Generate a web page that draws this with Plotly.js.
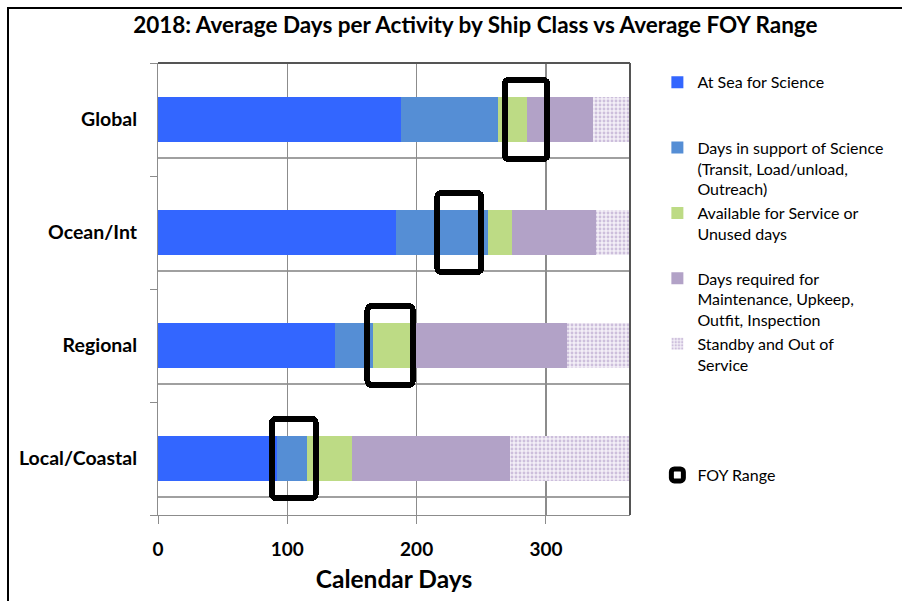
<!DOCTYPE html>
<html>
<head>
<meta charset="utf-8">
<script src="https://cdn.plot.ly/plotly-3.0.1.min.js"></script>
<style>
html,body{margin:0;padding:0;background:#fff;}
#wrap{position:relative;width:902px;height:601px;}
#chart{width:902px;height:601px;}
#frame{position:absolute;left:7px;top:7px;right:0;bottom:0;border-top:2px solid #000;border-left:2px solid #000;pointer-events:none;}
</style>
</head>
<body>
<div id="wrap"><div id="chart"></div><div id="frame"></div></div>
<script>
// Data
const categories = ["Global", "Ocean/Int", "Regional", "Local/Coastal"];
const atSea      = [188, 184, 137, 92];
const support    = [75, 71, 29, 23];
const available  = [22, 19, 31, 35];
const maintenance= [51, 65, 119, 122];
const standby    = [29, 26, 49, 93];
const foyLow     = [268, 216, 162, 88];
const foyHigh    = [301, 250, 197, 122];
const xTicks     = [0, 100, 200, 300];

const seriesNames = [
  "At Sea for Science<br> <br> ",
  "Days in support of Science<br>(Transit, Load/unload,<br>Outreach)",
  "Available for Service or<br>Unused days<br> ",
  "Days required for<br>Maintenance, Upkeep,<br>Outfit, Inspection",
  "Standby and Out of<br>Service",
  "FOY Range"
];

const yPos = categories.map((c, i) => i);
const FONT = "Lato, 'Open Sans', sans-serif";

function barTrace(vals, name, marker, grp) {
  return {
    type: "bar", orientation: "h", x: vals, y: yPos, name: name,
    marker: marker, width: 0.4, legendgroup: grp, hoverinfo: "x+name"
  };
}

const traces = [
  barTrace(atSea, seriesNames[0], {color: "#3366ff"}, "g1"),
  barTrace(support, seriesNames[1], {color: "#558ed5"}, "g2"),
  barTrace(available, seriesNames[2], {color: "#bddb85"}, "g3"),
  barTrace(maintenance, seriesNames[3], {color: "#b2a2c7"}, "g4"),
  barTrace(standby, seriesNames[4], {color: "#eee8f3",
    pattern: {shape: ".", fgcolor: "#cdbfdc", bgcolor: "#f3eff7", size: 4, solidity: 0.4}}, "g5"),
  {
    type: "bar", orientation: "h", yaxis: "y2", legend: "legend2",
    base: foyLow, x: foyHigh.map((h, i) => h - foyLow[i]), y: yPos,
    name: seriesNames[5], width: 0.7, legendgroup: "g6",
    marker: {color: "rgba(0,0,0,0)", line: {color: "#000", width: 6}, cornerradius: 4}
  }
];

// separator lines beneath each bar
const shapes = yPos.map(i => ({
  type: "line", xref: "paper", x0: 0, x1: 1, yref: "y", y0: i + 0.34, y1: i + 0.34,
  line: {color: "#a0a0a0", width: 2}, layer: "below"
}));

const layout = {
  width: 902, height: 601,
  margin: {l: 158, r: 272, t: 63, b: 86},
  paper_bgcolor: "#fff", plot_bgcolor: "#fff",
  barmode: "stack", bargap: 0,
  font: {family: FONT, color: "#000"},
  title: {text: "<b>2018: Average Days per Activity by Ship Class vs Average FOY Range</b>",
          font: {size: 22.5, family: FONT, color: "#000"}, x: 0.527, xanchor: "center", y: 0.958, yanchor: "middle"},
  xaxis: {
    range: [0, 365], tickvals: xTicks, ticktext: xTicks.map(v => "<b>" + v + "</b>"),
    showgrid: true, gridcolor: "#8c8c8c", gridwidth: 1.5,
    ticks: "outside", ticklen: 8, tickcolor: "#8c8c8c",
    tickfont: {size: 19, family: FONT}, ticklabelstandoff: 9,
    showline: true, linecolor: "#8c8c8c", linewidth: 1, mirror: false,
    zeroline: false,
    title: {text: "<b>Calendar Days</b>", font: {size: 24.5, family: FONT}, standoff: 12}
  },
  yaxis: {
    range: [3.5, -0.5], tickvals: yPos, ticktext: categories.map(c => "<b>" + c + "</b>"),
    ticks: "", tickfont: {size: 19.5, family: FONT}, ticklabelstandoff: 16,
    showgrid: false, zeroline: false, showline: true, linecolor: "#8c8c8c", linewidth: 1,
    minor: {tickmode: "linear", tick0: 0.5, dtick: 1, ticks: "outside", ticklen: 7, tickcolor: "#8c8c8c", showgrid: false}
  },
  yaxis2: {range: [3.5, -0.5], overlaying: "y", visible: false, fixedrange: true},
  shapes: shapes.concat([
    {type: "line", xref: "paper", yref: "paper", x0: 0, x1: 1, y0: 1, y1: 1, line: {color: "#555", width: 2}},
    {type: "line", xref: "paper", yref: "paper", x0: 1, x1: 1, y0: 0, y1: 1, line: {color: "#555", width: 2}}
  ]),
  legend: {
    x: 1.058, xanchor: "left", y: 0.995, yanchor: "top",
    font: {size: 16, family: FONT}, tracegroupgap: 0, valign: "top",
    bgcolor: "rgba(0,0,0,0)"
  },
  legend2: {
    x: 1.058, xanchor: "left", y: 0.0885, yanchor: "middle",
    font: {size: 16, family: FONT}, bgcolor: "rgba(0,0,0,0)"
  },
  showlegend: true
};

Plotly.newPlot("chart", traces, layout, {displayModeBar: false, staticPlot: true});
</script>
</body>
</html>
